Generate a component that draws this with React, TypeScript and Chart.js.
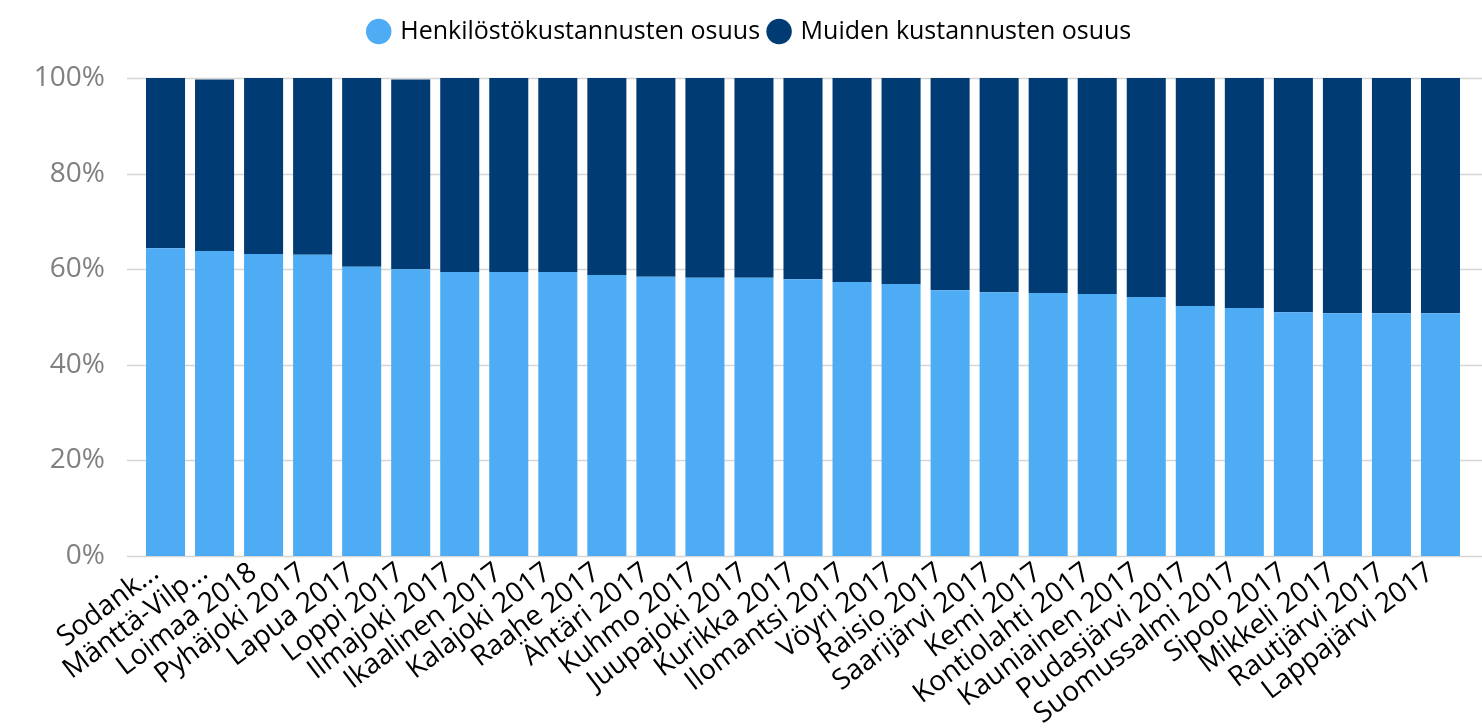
import React, { useEffect, useRef } from "react";
import { Chart, registerables } from "chart.js";

Chart.register(...registerables);

const categories = [
  "Sodank...", "Mänttä-Vilp...", "Loimaa 2018", "Pyhäjoki 2017", "Lapua 2017", "Loppi 2017",
  "Ilmajoki 2017", "Ikaalinen 2017", "Kalajoki 2017", "Raahe 2017", "Ähtäri 2017", "Kuhmo 2017",
  "Juupajoki 2017", "Kurikka 2017", "Ilomantsi 2017", "Vöyri 2017", "Raisio 2017", "Saarijärvi 2017",
  "Kemi 2017", "Kontiolahti 2017", "Kauniainen 2017", "Pudasjärvi 2017", "Suomussalmi 2017",
  "Sipoo 2017", "Mikkeli 2017", "Rautjärvi 2017", "Lappajärvi 2017",
];

const henkilosto = [
  64.4, 63.8, 63.2, 63.0, 60.5, 60.0, 59.4, 59.4, 59.4, 58.8, 58.4, 58.2, 58.2, 57.9,
  57.3, 56.9, 55.6, 55.2, 55.0, 54.8, 54.2, 52.3, 51.9, 51.0, 50.8, 50.8, 50.8,
];

const muut = [
  35.6, 35.9, 36.8, 37.0, 39.5, 39.7, 40.6, 40.6, 40.6, 41.2, 41.6, 41.8, 41.8, 42.1,
  42.7, 43.1, 44.4, 44.8, 45.0, 45.2, 45.8, 47.7, 48.1, 49.0, 49.2, 49.2, 49.2,
];

const seriesNames = ["Henkilöstökustannusten osuus", "Muiden kustannusten osuus"];
const yTicks = [0, 20, 40, 60, 80, 100];

const FONT = "'Open Sans', 'Noto Sans', sans-serif";

const gridPlugin = {
  id: "fullGrid",
  beforeDatasetsDraw(chart: any) {
    const { ctx, chartArea, scales } = chart;
    const y = scales.y;
    ctx.save();
    ctx.strokeStyle = "#d3d6d3";
    ctx.lineWidth = 1.5;
    yTicks.forEach((v) => {
      const py = Math.round(y.getPixelForValue(v)) + 0.5;
      ctx.beginPath();
      ctx.moveTo(chartArea.left - 14, py);
      ctx.lineTo(chart.width, py);
      ctx.stroke();
    });
    ctx.restore();
  },
};

const legendSpacer = {
  id: "legendSpacer",
  beforeInit(chart: any) {
    const legend = chart.legend;
    if (!legend) return;
    const origFit = legend.fit;
    legend.fit = function () {
      origFit.call(this);
      this.height += 24;
    };
  },
  afterLayout(chart: any) {
    const legend = chart.legend;
    if (!legend) return;
    legend.left += 18;
    legend.right += 18;
  },
};

export default function App() {
  const ref = useRef<HTMLCanvasElement>(null);
  useEffect(() => {
    document.body.style.margin = "0";
    const chart = new Chart(ref.current!, {
      type: "bar",
      data: {
        labels: categories,
        datasets: [
          {
            label: seriesNames[0],
            data: henkilosto,
            backgroundColor: "#4dacf4",
            borderWidth: 0,
          },
          {
            label: seriesNames[1],
            data: muut,
            backgroundColor: "#003b73",
            borderWidth: 0,
          },
        ],
      },
      plugins: [gridPlugin, legendSpacer],
      options: {
        animation: false,
        responsive: false,
        maintainAspectRatio: false,
        layout: { padding: { left: 0, right: 17, top: 9, bottom: 0 } },
        datasets: { bar: { categoryPercentage: 1, barPercentage: 0.796 } },
        plugins: {
          legend: {
            position: "top",
            labels: {
              usePointStyle: true,
              pointStyle: "circle",
              boxWidth: 18,
              boxHeight: 18,
              padding: 10,
              color: "#000",
              font: { family: FONT, size: 25 },
            },
          },
          tooltip: { enabled: false },
        },
        scales: {
          x: {
            stacked: true,
            grid: { display: false, drawTicks: false },
            border: { display: false },
            ticks: {
              autoSkip: false,
              minRotation: 37,
              maxRotation: 37,
              labelOffset: -10,
              padding: 0,
              color: "#000",
              font: { family: FONT, size: 28 },
            },
            afterFit(scale: any) {
              scale.height = 172;
            },
          },
          y: {
            stacked: true,
            min: 0,
            max: 100,
            afterBuildTicks(scale: any) {
              scale.ticks = yTicks.map((v) => ({ value: v }));
            },
            grid: { display: false, drawTicks: false },
            border: { display: false },
            ticks: {
              padding: 36,
              color: "#808080",
              font: { family: FONT, size: 28 },
              callback: (v: any) => v + "%",
            },
            afterFit(scale: any) {
              scale.width = 141;
            },
          },
        },
      },
    });
    return () => chart.destroy();
  }, []);
  return <canvas ref={ref} width={1482} height={728} style={{ display: "block" }} />;
}
